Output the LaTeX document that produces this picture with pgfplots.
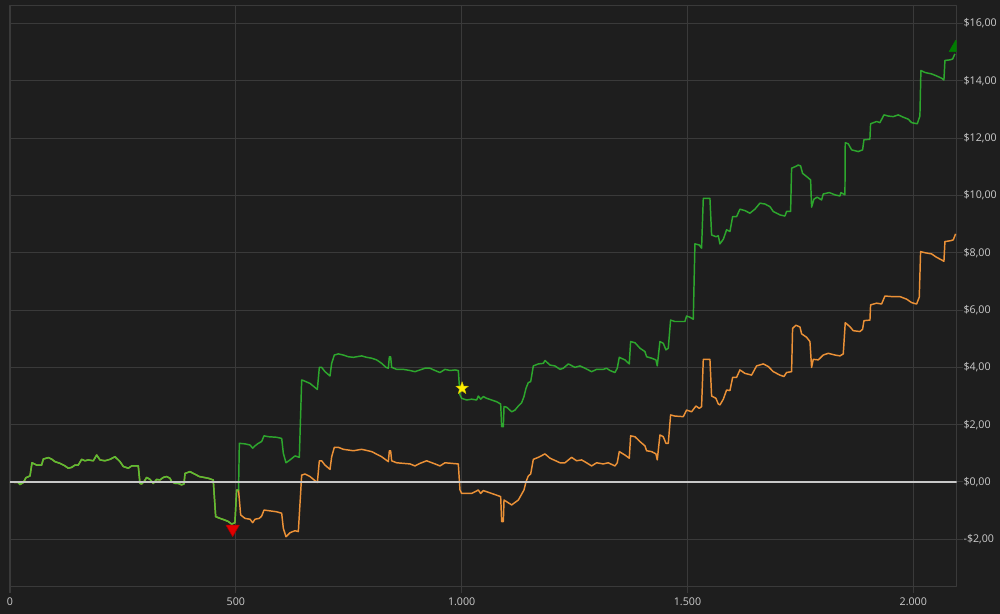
\documentclass[border=0pt]{standalone}
\usepackage{fontspec}
\setmainfont{Open Sans}
\usepackage{pgfplots}
\pgfplotsset{compat=1.18}
\definecolor{bg}{RGB}{30,30,30}
\definecolor{gridc}{RGB}{58,58,58}
\definecolor{txt}{RGB}{205,205,205}
\definecolor{gline}{RGB}{50,205,50}
\definecolor{oline}{RGB}{235,145,55}
\definecolor{zline}{RGB}{200,200,200}
\definecolor{redm}{RGB}{225,0,0}
\definecolor{greenm}{RGB}{0,125,0}
\definecolor{yelm}{RGB}{255,238,0}
\pgfdeclareplotmark{fstar}{%
  \pgfpathmoveto{\pgfpointpolar{90}{\pgfplotmarksize}}%
  \pgfpathlineto{\pgfpointpolar{126}{0.4\pgfplotmarksize}}%
  \pgfpathlineto{\pgfpointpolar{162}{\pgfplotmarksize}}%
  \pgfpathlineto{\pgfpointpolar{198}{0.4\pgfplotmarksize}}%
  \pgfpathlineto{\pgfpointpolar{234}{\pgfplotmarksize}}%
  \pgfpathlineto{\pgfpointpolar{270}{0.4\pgfplotmarksize}}%
  \pgfpathlineto{\pgfpointpolar{306}{\pgfplotmarksize}}%
  \pgfpathlineto{\pgfpointpolar{342}{0.4\pgfplotmarksize}}%
  \pgfpathlineto{\pgfpointpolar{18}{\pgfplotmarksize}}%
  \pgfpathlineto{\pgfpointpolar{54}{0.4\pgfplotmarksize}}%
  \pgfpathclose\pgfusepathqfillstroke}
\begin{document}
\begin{tikzpicture}
\fill[bg] (0,0) rectangle (750pt,-460.5pt);
\useasboundingbox (0,0) rectangle (750pt,-460.5pt);
\begin{axis}[
  at={(7.5pt,-439.5pt)}, anchor=south west,
  scale only axis, width=710pt, height=435pt,
  xmin=0, xmax=2096, ymin=-3.63, ymax=16.61,
  axis line style={gridc, line width=0.75pt},
  grid=major, major grid style={gridc, line width=0.75pt},
  xtick={0,500,1000,1500,2000},
  xticklabels={0,500,1.000,1.500,2.000},
  ytick={-2,0,2,4,6,8,10,12,14,16},
  yticklabels={{-\$2,00},{\$0,00},{\$2,00},{\$4,00},{\$6,00},{\$8,00},{\$10,00},{\$12,00},{\$14,00},{\$16,00}},
  xtick pos=left, ytick pos=right, yticklabel pos=right,
  tick align=outside, major tick length=5pt,
  tick style={gridc, line width=0.75pt},
  ticklabel style={font=\fontsize{8}{9.6}\selectfont, text=txt},
  yticklabel style={anchor=west, inner xsep=0pt, inner ysep=0pt},
  clip marker paths=true,
  line join=round,
]
% orange series
\addplot[oline, line width=1.1pt, mark=none] coordinates {
(0,0) (18.5,-0.02) (22,-0.09) (29.5,-0.02) (35.4,0.15) (44.3,0.21) (48.7,0.67) (59,0.59) (70,0.59) (73.8,0.80) (84.9,0.85) (92,0.80) (99.6,0.71) (110.7,0.65) (121.8,0.56) (129,0.48) (136.5,0.51) (144,0.59) (151,0.59) (158.7,0.79) (166,0.74) (173.4,0.77) (184.5,0.74) (191.9,0.94) (199.3,0.77) (210.3,0.74) (221.4,0.79) (232.5,0.88) (243.5,0.71) (251,0.54) (262,0.48) (269.4,0.56) (284,0.56) (287.8,-0.05) (291.5,-0.07) (296.7,0.01) (302.6,0.16) (310,0.09) (317.3,-0.05) (324.7,0.09) (332,0.07) (339.5,0.16) (346.9,0.19) (354.2,0.13) (358,0.01) (365.3,-0.05) (372.7,-0.05) (380,-0.10) (385.2,-0.07) (387.5,0.30) (398.5,0.36) (406,0.30) (419.2,0.19) (439,0.13) (450,0.07) (455.4,-1.21) (465,-1.27) (476,-1.33) (483.4,-1.38) (490.8,-1.47) (498,-1.42) (501.8,-0.28) (506,-0.28)
(510.7,-1.15) (520.3,-1.27) (531.4,-1.30) (537.3,-1.42) (542.5,-1.30) (552,-1.27) (557.2,-1.19) (562.4,-0.98) (572,-1.00) (590.4,-1.04) (601.5,-1.09) (605.2,-1.62) (611.1,-1.91) (620,-1.77) (631,-1.70) (638.4,-1.73) (645.8,0.24) (653.2,0.28) (664.2,0.19) (680.5,-0.02) (684.9,0.74) (690,0.74) (697.4,0.59) (708.5,0.44) (712.2,0.88) (718.1,1.21) (727,1.21) (738,1.14) (760.2,1.09) (778.6,1.14) (800.8,1.06) (822.9,0.88) (837.7,0.71) (839.9,1.09) (842.8,1.09) (845,0.74) (856.1,0.67) (885.6,0.63) (896.7,0.56) (907.8,0.65) (922.5,0.74) (941,0.63) (952,0.56) (963.1,0.67) (992.6,0.63) (996.3,-0.28) (1000,-0.40) (1022.2,-0.40) (1036.9,-0.28) (1042.1,-0.40) (1048,-0.30) (1066.5,-0.40) (1086.4,-0.51) (1088.6,-1.38) (1092.3,-1.38) (1093.8,-0.63) (1110.7,-0.80) (1125.5,-0.63) (1138,-0.28) (1142.5,0.01) (1147.6,0.21) (1152.8,0.28) (1158.7,0.79) (1169.8,0.86) (1184.5,0.98) (1195.6,0.83) (1217.8,0.67) (1228.7,0.67) (1243.4,0.86) (1254.5,0.74) (1265.6,0.77) (1276.6,0.67) (1287.7,0.56) (1298.8,0.67) (1313.5,0.63) (1324.6,0.67) (1339.4,0.56) (1344.5,0.67) (1349,1.06) (1361.5,0.94) (1371.1,0.83) (1374.1,1.61) (1383.7,1.58) (1394.7,1.41) (1405.8,1.26) (1409.5,1.09) (1420.6,1.06) (1430.1,0.98) (1433.1,0.77) (1439,1.64) (1446.4,1.58) (1452.3,1.35) (1457.5,1.35) (1462.6,2.34) (1472.2,2.30) (1490.7,2.28) (1498,2.51) (1509.1,2.45) (1518.7,2.65) (1526.1,2.57) (1531.2,2.63) (1535,4.28) (1549.7,4.28) (1553.4,3.00) (1563,2.92) (1568.2,2.72) (1571.9,2.69) (1579.3,2.89) (1586.6,3.21) (1594,3.19) (1600,3.65) (1608.7,3.65) (1616.1,3.91) (1627.2,3.79) (1641.9,3.73) (1653,4.05) (1667.8,4.12) (1678.9,4.03) (1690,3.85) (1704.7,3.73) (1713.6,3.68) (1719.4,3.82) (1730.5,3.85) (1732.7,5.36) (1740,5.47) (1749,5.41) (1752.7,5.17) (1763.7,5.05) (1771.1,4.90) (1774.8,4.00) (1778.5,4.28) (1789.6,4.26) (1800.6,4.43) (1811.7,4.49) (1826.5,4.43) (1837.5,4.40) (1844.9,4.47) (1849.3,5.56) (1859.6,5.42) (1867,5.28) (1881.8,5.25) (1887.7,5.33) (1890.7,5.63) (1904,5.65) (1905.4,6.18) (1918.7,6.24) (1929.8,6.21) (1937.2,6.49) (1951.9,6.47) (1970.4,6.47) (1985.1,6.38) (1996.2,6.26) (2007.3,6.21) (2013.2,6.45) (2016.1,8.04) (2025.7,8.0) (2040.4,7.96) (2051.5,7.84) (2062.6,7.75) (2067.8,7.70) (2070,8.39) (2082.6,8.42) (2088.5,8.45) (2093.6,8.66)
};
% green series
\addplot[gline, line width=1.1pt, draw opacity=0.78, mark=none] coordinates {
(0,0) (18.5,-0.02) (22,-0.09) (29.5,-0.02) (35.4,0.15) (44.3,0.21) (48.7,0.67) (59,0.59) (70,0.59) (73.8,0.80) (84.9,0.85) (92,0.80) (99.6,0.71) (110.7,0.65) (121.8,0.56) (129,0.48) (136.5,0.51) (144,0.59) (151,0.59) (158.7,0.79) (166,0.74) (173.4,0.77) (184.5,0.74) (191.9,0.94) (199.3,0.77) (210.3,0.74) (221.4,0.79) (232.5,0.88) (243.5,0.71) (251,0.54) (262,0.48) (269.4,0.56) (284,0.56) (287.8,-0.05) (291.5,-0.07) (296.7,0.01) (302.6,0.16) (310,0.09) (317.3,-0.05) (324.7,0.09) (332,0.07) (339.5,0.16) (346.9,0.19) (354.2,0.13) (358,0.01) (365.3,-0.05) (372.7,-0.05) (380,-0.10) (385.2,-0.07) (387.5,0.30) (398.5,0.36) (406,0.30) (419.2,0.19) (439,0.13) (450,0.07) (455.4,-1.21) (465,-1.27) (476,-1.33) (483.4,-1.38) (490.8,-1.47) (498,-1.42) (501.8,-0.28) (506,-0.28)
(507.8,1.35) (520.3,1.33) (531.4,1.29) (537.3,1.18) (542.5,1.26) (549.8,1.35) (557.2,1.41) (562.4,1.61) (572,1.58) (590.4,1.56) (601.5,1.52) (605.2,1.00) (611.1,0.67) (620,0.77) (631,0.91) (640.6,0.86) (645.8,3.56) (649.5,3.54) (664.2,3.44) (680.5,3.23) (684.9,4.00) (690,4.00) (697.4,3.85) (708.5,3.70) (712.2,4.14) (718.1,4.43) (727,4.47) (738,4.43) (749.1,4.37) (760.2,4.35) (778.6,4.40) (789.7,4.35) (800.8,4.32) (811.8,4.26) (822.9,4.14) (832.5,4.00) (837.7,3.97) (839.9,4.37) (842.8,4.37) (845,4.00) (856.1,3.93) (870.9,3.93) (885.6,3.89) (896.7,3.85) (907.8,3.91) (918.8,3.97) (929.9,3.97) (941,3.89) (952,3.82) (963.1,3.93) (974.2,3.89) (985.3,3.91) (992.6,3.89) (996.3,3.04) (1000,2.92) (1011,2.86) (1022.2,2.89) (1033.2,2.86) (1036.9,3.00) (1042.1,2.89) (1048,2.98) (1055.4,2.92) (1066.5,2.86) (1077.5,2.80) (1086.4,2.72) (1088.6,1.93) (1092.3,1.93) (1093.8,2.63) (1099.6,2.61) (1110.7,2.45) (1118.1,2.51) (1125.5,2.65) (1132.9,2.77) (1138,2.98) (1142.5,3.27) (1147.6,3.47) (1152.8,3.50) (1158.7,4.05) (1169.8,4.12) (1180.9,4.14) (1184.5,4.24) (1195.6,4.08) (1206.6,4.05) (1217.8,3.93) (1225.1,3.97) (1236.2,4.12) (1250.8,4.00) (1261.9,4.05) (1273,3.97) (1287.7,3.85) (1298.8,3.93) (1313.5,3.93) (1320.9,3.97) (1328.3,3.89) (1339.4,3.82) (1344.5,3.97) (1349,4.35) (1361.5,4.26) (1371.1,4.12) (1374.1,4.90) (1383.7,4.86) (1394.7,4.67) (1405.8,4.55) (1409.5,4.37) (1420.6,4.32) (1430.1,4.26) (1433.1,4.05) (1439,4.90) (1446.4,4.84) (1452.3,4.61) (1457.5,4.67) (1462.6,5.65) (1472.2,5.60) (1487,5.60) (1494.4,5.60) (1498,5.79) (1505.4,5.75) (1512.8,5.68) (1516.5,8.31) (1526.1,8.27) (1531.2,8.16) (1535,9.90) (1549.7,9.90) (1553.4,8.62) (1563,8.56) (1568.2,8.59) (1571.9,8.31) (1579.3,8.47) (1586.6,8.80) (1594,8.74) (1600,9.26) (1608.7,9.26) (1616.1,9.52) (1627.2,9.47) (1638.2,9.38) (1649.3,9.52) (1660.4,9.73) (1671.5,9.70) (1682.5,9.61) (1689.9,9.44) (1704.7,9.32) (1715.7,9.28) (1719.4,9.44) (1728.3,9.44) (1730.5,10.95) (1737.9,11.0) (1745.3,11.06) (1750.4,11.03) (1754.8,10.77) (1763.7,10.66) (1772.6,10.54) (1774.8,9.59) (1780,9.87) (1787.3,9.94) (1796.9,9.84) (1800.6,10.05) (1813.9,10.10) (1826.5,10.02) (1837.5,9.98) (1839.7,10.10) (1848.6,10.02) (1849.3,11.84) (1856,11.80) (1863.4,11.59) (1878.1,11.53) (1887.7,11.59) (1890.7,11.94) (1903.9,11.96) (1905.4,12.50) (1918.7,12.58) (1926.1,12.54) (1935,12.81) (1944.5,12.77) (1955.6,12.75) (1966.7,12.81) (1977.7,12.73) (1988.8,12.66) (1996.2,12.54) (2008.7,12.50) (2014.6,12.77) (2016.8,14.36) (2025.7,14.29) (2040.4,14.24) (2051.5,14.17) (2062.6,14.09) (2067.8,14.03) (2070,14.71) (2081,14.73) (2087,14.76) (2092.1,14.94)
};
% zero line
\addplot[zline, line width=1.5pt, mark=none] coordinates {(0,0) (2096,0)};
% markers
\addplot[only marks, mark=triangle*, mark size=5.8pt, mark options={rotate=180, fill=redm, draw=redm!75!black, line width=0.4pt}] coordinates {(493,-1.64)};
\addplot[only marks, mark=fstar, mark size=5pt, mark options={fill=yelm, draw=yelm!80!black, line width=0.3pt}] coordinates {(1001,3.27)};
\addplot[only marks, mark=triangle*, mark size=5.8pt, mark options={fill=greenm, draw=greenm, line width=0.4pt}] coordinates {(2094,15.15)};
\end{axis}
\end{tikzpicture}
\end{document}
